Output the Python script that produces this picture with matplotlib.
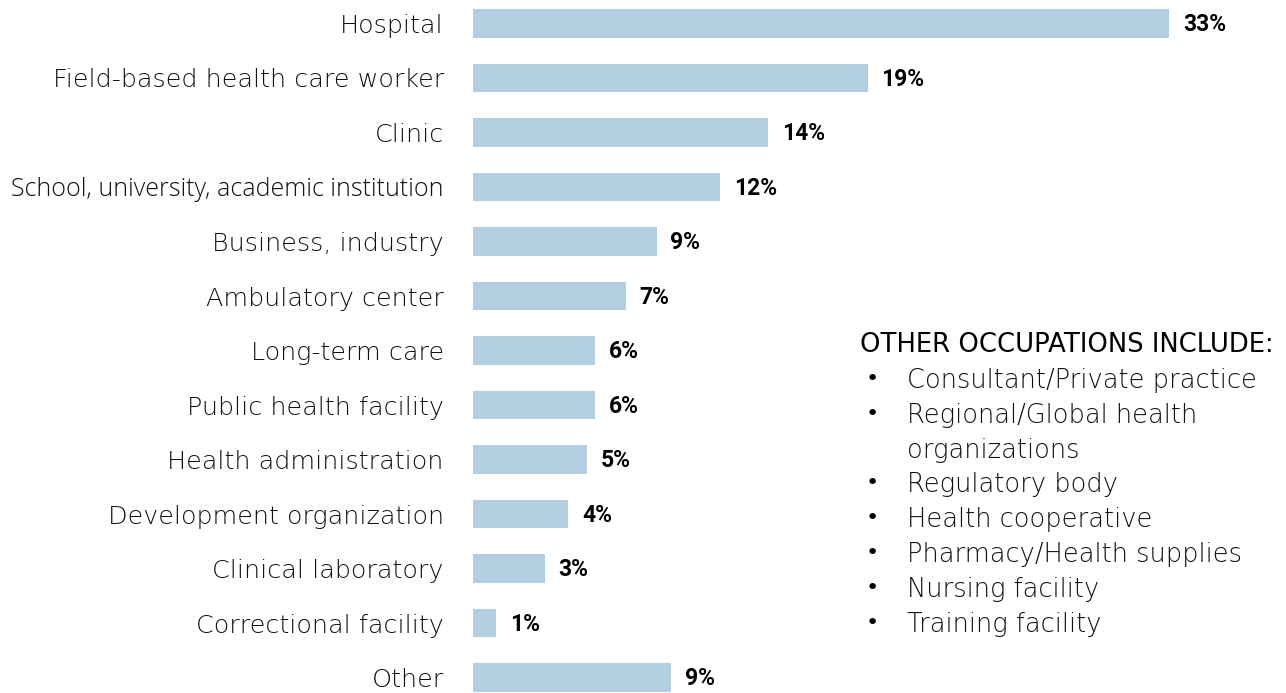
import matplotlib
matplotlib.use('Agg')
import matplotlib.pyplot as plt

# data
categories = ['Hospital', 'Field-based health care worker', 'Clinic',
              'School, university, academic institution', 'Business, industry',
              'Ambulatory center', 'Long-term care', 'Public health facility',
              'Health administration', 'Development organization',
              'Clinical laboratory', 'Correctional facility', 'Other']
values = [33.0, 18.7, 14.0, 11.7, 8.7, 7.25, 5.8, 5.8, 5.4, 4.5, 3.4, 1.1, 9.4]
value_labels = ['33%', '19%', '14%', '12%', '9%', '7%', '6%', '6%', '5%', '4%', '3%', '1%', '9%']

other_title = 'OTHER OCCUPATIONS INCLUDE:'
other_items = ['Consultant/Private practice', 'Regional/Global health\norganizations',
               'Regulatory body', 'Health cooperative', 'Pharmacy/Health supplies',
               'Nursing facility', 'Training facility']

W, H = 1286, 693
bar_color = '#b3cee1'
text_color = '#111111'
light_font = 'DejaVu Sans'

fig = plt.figure(figsize=(W / 100, H / 100), dpi=100)
ax = fig.add_axes([473 / W, 0, 1 - 473 / W, 1])

y = list(range(len(categories)))
ax.barh(y, values, height=0.53, color=bar_color)
ax.set_xlim(0, (W - 473) / 21.1)
ax.set_ylim(len(categories) - 1 + 0.284, -0.431)

ax.set_yticks(y)
ax.set_yticklabels(categories, fontsize=18.3, color=text_color,
                   family=light_font, fontweight='light')
# this one is set tighter in the original
ax.get_yticklabels()[3].set_family('Open Sans')
ax.get_yticklabels()[3].set_fontsize(18.0)
ax.tick_params(axis='y', length=0, pad=21)
ax.set_xticks([])
for s in ax.spines.values():
    s.set_visible(False)

# value labels at the end of each bar
for yi, v, lab in zip(y, values, value_labels):
    ax.annotate(lab, (v, yi), xytext=(10, -1), textcoords='offset points',
                va='center', ha='left', fontsize=16.5, fontweight='bold',
                family='Roboto', color='black')

# side note
fig.text(860 / W, 1 - 352 / H, other_title, fontsize=18.6, family=light_font,
         color='black', va='baseline', ha='left')
base = 388
step = 34.8
k = 0
for item in other_items:
    fig.text(866 / W, 1 - (base + k * step - 9) / H, '•', fontsize=16,
             color='black', va='center', ha='left')
    for line in item.split('\n'):
        fig.text(907 / W, 1 - (base + k * step) / H, line, fontsize=18.5,
                 family=light_font, fontweight='light', color=text_color,
                 va='baseline', ha='left')
        k += 1

fig.savefig('out.png', dpi=100)
